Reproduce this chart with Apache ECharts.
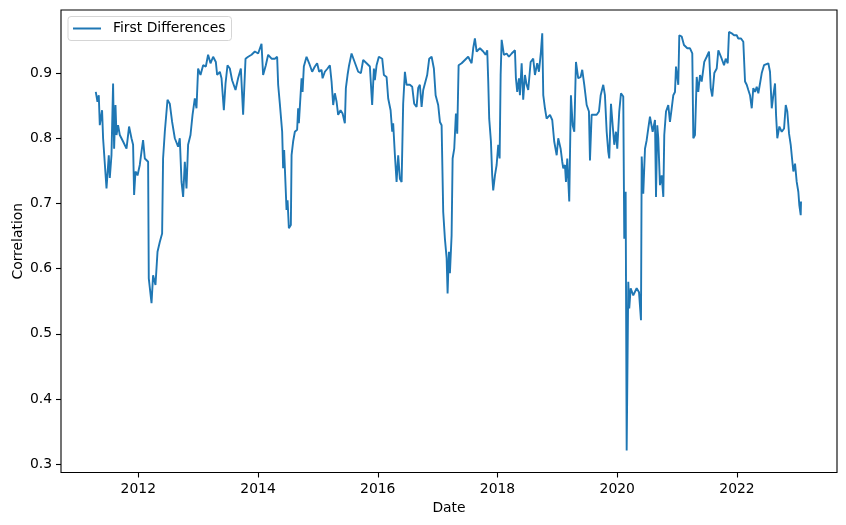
<!DOCTYPE html>
<html>
<head>
<meta charset="utf-8">
<script src="https://cdn.jsdelivr.net/npm/echarts@6/dist/echarts.min.js"></script>
<style>
  html, body { margin: 0; padding: 0; background: #fff; }
  #chart { width: 846px; height: 525px; }
</style>
</head>
<body>
<div id="chart"></div>
<script>
// date as decimal year
const years = [
  2011.290, 2011.318, 2011.340, 2011.357, 2011.395, 2011.412, 2011.469, 2011.507, 2011.524, 2011.552,
  2011.579, 2011.596, 2011.619, 2011.636, 2011.662, 2011.691, 2011.746, 2011.803, 2011.846, 2011.886,
  2011.913, 2011.930, 2011.953, 2011.987, 2012.025, 2012.053, 2012.080, 2012.109, 2012.164, 2012.175,
  2012.221, 2012.247, 2012.287, 2012.321, 2012.359, 2012.398, 2012.414, 2012.443, 2012.488, 2012.526,
  2012.565, 2012.610, 2012.665, 2012.693, 2012.722, 2012.749, 2012.777, 2012.805, 2012.832, 2012.872,
  2012.906, 2012.944, 2012.972, 2012.999, 2013.039, 2013.083, 2013.128, 2013.166, 2013.206, 2013.250,
  2013.295, 2013.317, 2013.362, 2013.390, 2013.429, 2013.457, 2013.490, 2013.529, 2013.567, 2013.624,
  2013.667, 2013.713, 2013.751, 2013.791, 2013.835, 2013.891, 2013.947, 2014.002, 2014.058, 2014.085,
  2014.130, 2014.169, 2014.226, 2014.281, 2014.319, 2014.336, 2014.364, 2014.393, 2014.403, 2014.419,
  2014.436, 2014.464, 2014.476, 2014.493, 2014.515, 2014.548, 2014.560, 2014.586, 2014.615, 2014.653,
  2014.670, 2014.682, 2014.715, 2014.727, 2014.744, 2014.765, 2014.810, 2014.854, 2014.904, 2014.949,
  2014.987, 2015.021, 2015.061, 2015.078, 2015.116, 2015.161, 2015.200, 2015.228, 2015.255, 2015.283,
  2015.312, 2015.338, 2015.378, 2015.412, 2015.450, 2015.467, 2015.495, 2015.517, 2015.562, 2015.601,
  2015.634, 2015.673, 2015.718, 2015.756, 2015.813, 2015.868, 2015.906, 2015.935, 2015.951, 2015.980,
  2016.018, 2016.074, 2016.102, 2016.147, 2016.174, 2016.214, 2016.241, 2016.257, 2016.286, 2016.314,
  2016.341, 2016.369, 2016.398, 2016.424, 2016.453, 2016.481, 2016.536, 2016.575, 2016.608, 2016.648,
  2016.675, 2016.703, 2016.732, 2016.759, 2016.787, 2016.825, 2016.859, 2016.899, 2016.937, 2016.966,
  2017.009, 2017.038, 2017.066, 2017.093, 2017.121, 2017.150, 2017.166, 2017.188, 2017.205, 2017.233,
  2017.250, 2017.277, 2017.305, 2017.327, 2017.350, 2017.400, 2017.455, 2017.510, 2017.567, 2017.594,
  2017.622, 2017.651, 2017.706, 2017.761, 2017.801, 2017.828, 2017.845, 2017.861, 2017.890, 2017.911,
  2017.928, 2017.957, 2017.985, 2018.012, 2018.035, 2018.052, 2018.069, 2018.107, 2018.152, 2018.190,
  2018.236, 2018.291, 2018.307, 2018.329, 2018.358, 2018.374, 2018.403, 2018.429, 2018.458, 2018.486,
  2018.513, 2018.553, 2018.596, 2018.625, 2018.663, 2018.692, 2018.725, 2018.747, 2018.764, 2018.792,
  2018.820, 2018.876, 2018.914, 2018.947, 2018.988, 2019.014, 2019.054, 2019.081, 2019.098, 2019.126,
  2019.143, 2019.165, 2019.198, 2019.226, 2019.255, 2019.282, 2019.310, 2019.348, 2019.388, 2019.415,
  2019.449, 2019.489, 2019.527, 2019.544, 2019.572, 2019.599, 2019.656, 2019.694, 2019.723, 2019.766,
  2019.794, 2019.823, 2019.850, 2019.866, 2019.895, 2019.923, 2019.950, 2019.978, 2020.000, 2020.033,
  2020.062, 2020.100, 2020.117, 2020.140, 2020.157, 2020.184, 2020.200, 2020.224, 2020.267, 2020.324,
  2020.363, 2020.396, 2020.408, 2020.434, 2020.463, 2020.491, 2020.518, 2020.546, 2020.591, 2020.630,
  2020.647, 2020.668, 2020.685, 2020.713, 2020.742, 2020.769, 2020.785, 2020.814, 2020.852, 2020.880,
  2020.909, 2020.936, 2020.964, 2020.981, 2021.003, 2021.019, 2021.036, 2021.076, 2021.114, 2021.143,
  2021.170, 2021.215, 2021.253, 2021.270, 2021.298, 2021.327, 2021.353, 2021.382, 2021.410, 2021.453,
  2021.494, 2021.532, 2021.561, 2021.587, 2021.621, 2021.661, 2021.688, 2021.716, 2021.744, 2021.783,
  2021.811, 2021.845, 2021.866, 2021.911, 2021.950, 2021.995, 2022.021, 2022.067, 2022.105, 2022.134,
  2022.162, 2022.189, 2022.217, 2022.246, 2022.272, 2022.301, 2022.329, 2022.356, 2022.384, 2022.413,
  2022.451, 2022.484, 2022.523, 2022.551, 2022.580, 2022.607, 2022.635, 2022.652, 2022.673, 2022.707,
  2022.747, 2022.786, 2022.814, 2022.840, 2022.869, 2022.897, 2022.919, 2022.941, 2022.969, 2022.997,
  2023.024, 2023.041, 2023.064, 2023.069
]

const corr = [
  0.871, 0.856, 0.866, 0.820, 0.843, 0.800, 0.723, 0.774, 0.739, 0.774,
  0.884, 0.784, 0.851, 0.805, 0.820, 0.805, 0.795, 0.784, 0.818, 0.800,
  0.790, 0.713, 0.749, 0.743, 0.759, 0.779, 0.797, 0.769, 0.764, 0.585,
  0.547, 0.590, 0.575, 0.626, 0.641, 0.654, 0.769, 0.810, 0.859, 0.853,
  0.825, 0.800, 0.787, 0.800, 0.733, 0.710, 0.764, 0.723, 0.790, 0.805,
  0.836, 0.861, 0.846, 0.907, 0.897, 0.912, 0.910, 0.928, 0.915, 0.925,
  0.917, 0.897, 0.902, 0.892, 0.843, 0.884, 0.912, 0.907, 0.889, 0.874,
  0.892, 0.907, 0.836, 0.922, 0.925, 0.928, 0.933, 0.930, 0.945, 0.897,
  0.912, 0.928, 0.922, 0.922, 0.925, 0.882, 0.853, 0.851, 0.810, 0.754,
  0.782, 0.779, 0.690, 0.705, 0.662, 0.667, 0.774, 0.795, 0.810, 0.813,
  0.846, 0.823, 0.825, 0.892, 0.871, 0.910, 0.925, 0.915, 0.902, 0.910,
  0.915, 0.902, 0.905, 0.892, 0.902, 0.907, 0.912, 0.887, 0.851, 0.869,
  0.856, 0.836, 0.843, 0.838, 0.823, 0.877, 0.897, 0.910, 0.930, 0.920,
  0.922, 0.902, 0.900, 0.920, 0.915, 0.910, 0.851, 0.907, 0.889, 0.912,
  0.925, 0.922, 0.897, 0.894, 0.861, 0.843, 0.810, 0.823, 0.774, 0.733,
  0.774, 0.738, 0.733, 0.853, 0.902, 0.882, 0.882, 0.879, 0.853, 0.848,
  0.877, 0.882, 0.848, 0.874, 0.871, 0.897, 0.922, 0.925, 0.907, 0.866,
  0.851, 0.825, 0.820, 0.687, 0.646, 0.616, 0.562, 0.626, 0.593, 0.651,
  0.769, 0.784, 0.838, 0.807, 0.912, 0.915, 0.920, 0.925, 0.915, 0.938,
  0.953, 0.933, 0.938, 0.933, 0.928, 0.935, 0.887, 0.830, 0.795, 0.743,
  0.720, 0.743, 0.759, 0.790, 0.769, 0.897, 0.951, 0.928, 0.930, 0.925,
  0.930, 0.935, 0.892, 0.871, 0.892, 0.866, 0.915, 0.859, 0.897, 0.882,
  0.874, 0.917, 0.922, 0.897, 0.915, 0.902, 0.933, 0.961, 0.866, 0.846,
  0.830, 0.836, 0.828, 0.795, 0.774, 0.800, 0.784, 0.764, 0.754, 0.759,
  0.733, 0.769, 0.703, 0.866, 0.820, 0.810, 0.917, 0.892, 0.894, 0.905,
  0.882, 0.851, 0.841, 0.766, 0.836, 0.838, 0.836, 0.841, 0.866, 0.882,
  0.866, 0.810, 0.779, 0.769, 0.853, 0.820, 0.790, 0.810, 0.784, 0.841,
  0.869, 0.864, 0.646, 0.718, 0.321, 0.580, 0.539, 0.570, 0.559, 0.570,
  0.564, 0.521, 0.772, 0.715, 0.784, 0.797, 0.815, 0.833, 0.810, 0.828,
  0.710, 0.820, 0.800, 0.728, 0.743, 0.710, 0.805, 0.841, 0.851, 0.825,
  0.846, 0.866, 0.871, 0.910, 0.910, 0.882, 0.958, 0.956, 0.943, 0.946,
  0.938, 0.938, 0.930, 0.800, 0.805, 0.894, 0.871, 0.897, 0.887, 0.917,
  0.925, 0.933, 0.877, 0.864, 0.900, 0.907, 0.935, 0.938, 0.922, 0.912,
  0.922, 0.915, 0.963, 0.961, 0.958, 0.958, 0.953, 0.953, 0.948, 0.887,
  0.882, 0.874, 0.866, 0.846, 0.877, 0.871, 0.879, 0.869, 0.884, 0.900,
  0.912, 0.910, 0.915, 0.902, 0.846, 0.866, 0.884, 0.836, 0.800, 0.818,
  0.810, 0.815, 0.851, 0.841, 0.807, 0.790, 0.769, 0.749, 0.761, 0.733,
  0.718, 0.697, 0.682, 0.703
]

const yearTicks = [2012, 2014, 2016, 2018, 2020, 2022]
const corrTicks = [0.3, 0.4, 0.5, 0.6, 0.7, 0.8, 0.9]

const FONT = 'DejaVu Sans'
const FS = 13.9

let chart = echarts.init(document.getElementById('chart'), null, { renderer: 'canvas' })

const option = {
  animation: false,
  backgroundColor: '#fff',
  textStyle: { fontFamily: FONT },
  grid: {
    left: 61, right: 9, top: 10, bottom: 52.5,
    outerBoundsMode: 'none',
    containLabel: false,
    show: true, borderColor: '#000', borderWidth: 1.1, backgroundColor: 'transparent'
  },
  legend: {
    left: 68, top: 16.5,
    padding: [5, 6, 5, 5],
    icon: 'rect',
    itemWidth: 28, itemHeight: 2, itemGap: 10,
    borderColor: '#d5d5d5', borderWidth: 1, borderRadius: 3,
    backgroundColor: 'rgba(255,255,255,0.8)',
    textStyle: { fontFamily: FONT, fontSize: FS, color: '#000', padding: [0, 0, 0, 7] },
    data: ['First Differences']
  },
  xAxis: {
    type: 'value',
    min: 2010.709, max: 2023.670,
    name: 'Date', nameLocation: 'middle', nameGap: 28.5,
    nameTextStyle: { fontFamily: FONT, fontSize: FS, color: '#000' },
    axisLine: { show: false },
    axisTick: { show: true, length: 5, customValues: yearTicks, lineStyle: { color: '#000', width: 1.1 } },
    axisLabel: {
      customValues: yearTicks, margin: 10,
      fontFamily: FONT, fontSize: FS, color: '#000',
      formatter: v => v.toFixed(0)
    },
    splitLine: { show: false }
  },
  yAxis: {
    type: 'value',
    min: 0.2874, max: 0.9967,
    name: 'Correlation', nameLocation: 'middle', nameGap: 36,
    nameMoveOverlap: false,
    nameTextStyle: { fontFamily: FONT, fontSize: FS, color: '#000' },
    axisLine: { show: false },
    axisTick: { show: true, length: 5, customValues: corrTicks, lineStyle: { color: '#000', width: 1.1 } },
    axisLabel: {
      customValues: corrTicks, margin: 9,
      fontFamily: FONT, fontSize: FS, color: '#000',
      formatter: v => v.toFixed(1)
    },
    splitLine: { show: false }
  },
  series: [
    {
      name: 'First Differences',
      type: 'line',
      data: years.map((y, i) => [y, corr[i]]),
      symbol: 'none',
      showSymbol: false,
      lineStyle: { color: '#1f77b4', width: 1.9 },
      itemStyle: { color: '#1f77b4' }
    }
  ]
}

chart.setOption(option)
</script>
</body>
</html>
